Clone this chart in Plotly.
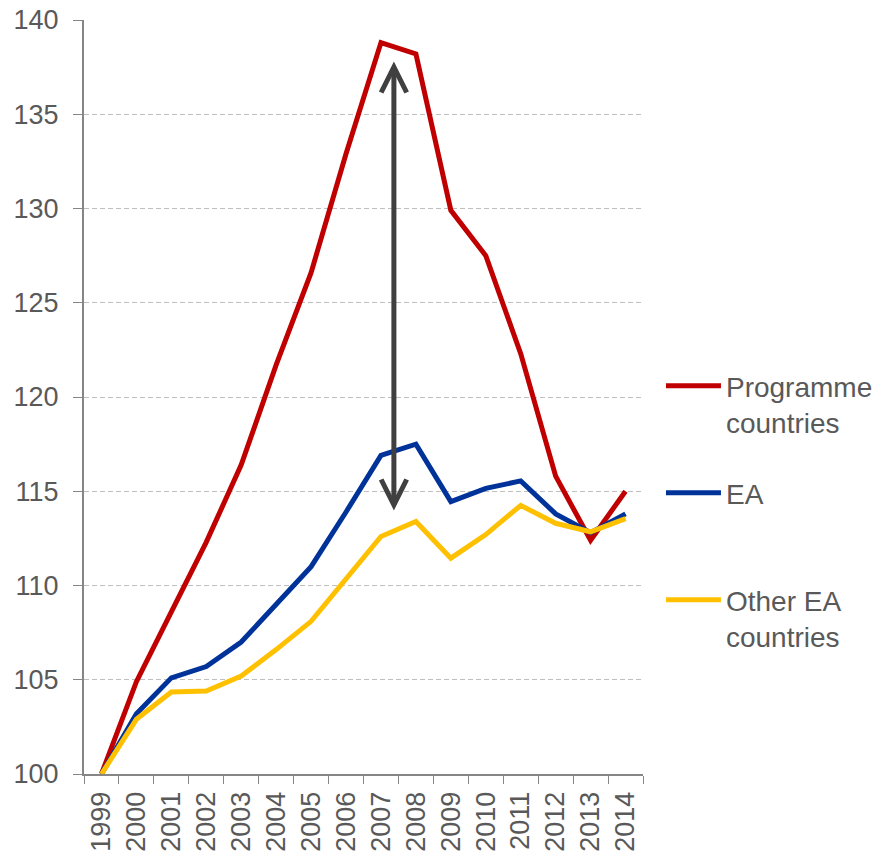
import plotly.graph_objects as go

years = ["1999", "2000", "2001", "2002", "2003", "2004", "2005", "2006",
         "2007", "2008", "2009", "2010", "2011", "2012", "2013", "2014"]
programme = [100, 104.9, 108.6, 112.3, 116.4, 121.7, 126.6, 132.9,
             138.8, 138.2, 129.9, 127.5, 122.3, 115.8, 112.4, 115.0]
ea = [100, 103.2, 105.1, 105.7, 107.0, 109.0, 111.0, 113.9,
      116.9, 117.5, 114.45, 115.15, 115.55, 113.8, 112.8, 113.8]
other_ea = [100, 102.9, 104.35, 104.4, 105.2, 106.6, 108.1, 110.4,
            112.6, 113.4, 111.45, 112.7, 114.25, 113.3, 112.85, 113.55]
series_names = ["Programme<br>countries", "EA", "Other EA<br>countries"]
series_colors = ["#C00000", "#003399", "#FFC000"]

# gap arrow (category index, value range)
arrow_x = 8.37
arrow_top = 137.8
arrow_bottom = 113.9

FONT = "Liberation Sans, Arial, sans-serif"
TXT = "#595959"

fig = go.Figure()
legends = ["legend", "legend2", "legend3"]
for name, vals, col, lg in zip(series_names, [programme, ea, other_ea], series_colors, legends):
    fig.add_trace(go.Scatter(x=years, y=vals, mode="lines", name=name,
                             line=dict(color=col, width=5), legend=lg))

fig.add_annotation(x=arrow_x, y=arrow_top, ax=arrow_x, ay=arrow_bottom,
                   xref="x", yref="y", axref="x", ayref="y", text="",
                   showarrow=True, arrowside="end+start", arrowhead=5, startarrowhead=5,
                   arrowsize=1.0, startarrowsize=1.0, arrowwidth=5, arrowcolor="#404040")

leg_common = dict(font=dict(family=FONT, size=28, color=TXT), bgcolor="rgba(0,0,0,0)",
                  borderwidth=0, itemwidth=55, xanchor="left", yanchor="top", valign="top",
                  tracegroupgap=0, xref="container", yref="container")
fig.update_layout(
    width=882, height=859,
    margin=dict(l=84, r=239, t=20, b=85),
    plot_bgcolor="white", paper_bgcolor="white",
    font=dict(family=FONT, size=27, color=TXT),
    showlegend=True,
    legend=dict(x=0.7494, y=0.5797, **leg_common),
    legend2=dict(x=0.7494, y=0.4552, **leg_common),
    legend3=dict(x=0.7494, y=0.3306, **leg_common),
    xaxis=dict(type="category", range=[-0.5, 15.5], tickson="boundaries",
               ticks="outside", ticklen=8, tickcolor="#868686", showline=True,
               linecolor="#868686", linewidth=2, showgrid=False, tickangle=-90,
               automargin=False, ticklabelstandoff=5,
               tickfont=dict(family=FONT, size=27, color=TXT)),
    yaxis=dict(range=[100, 140], dtick=5, ticks="outside", ticklen=9,
               tickcolor="#868686", showline=True, linecolor="#868686", linewidth=2,
               showgrid=True, gridcolor="#BFBFBF", griddash="5px,3px", gridwidth=1,
               zeroline=False, automargin=False, ticklabeloverflow="allow",
               ticklabelstandoff=9,
               tickfont=dict(family=FONT, size=27, color=TXT)),
)

fig.write_html("out.html", config={"displayModeBar": False},
               post_script="document.body.style.margin='0';document.body.style.overflow='hidden';")
